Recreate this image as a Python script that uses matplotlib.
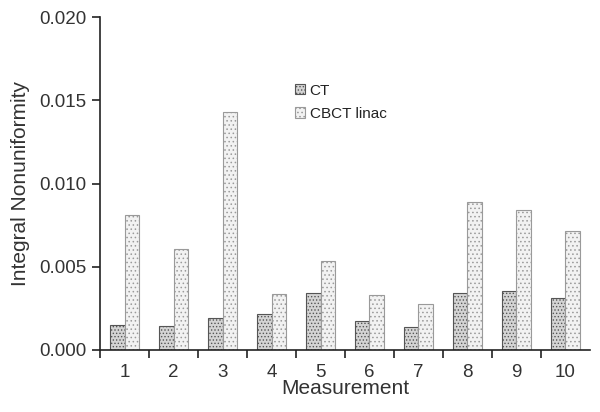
import matplotlib
matplotlib.use("Agg")
import matplotlib.pyplot as plt
import numpy as np

plt.rcParams['font.family'] = ['Liberation Sans', 'DejaVu Sans']
plt.rcParams['hatch.linewidth'] = 0.6

measurements = [1, 2, 3, 4, 5, 6, 7, 8, 9, 10]
ct = [0.0015, 0.00144, 0.0019, 0.00214, 0.0034, 0.00176, 0.00138, 0.00342, 0.00354, 0.00314]
cbct = [0.0081, 0.00605, 0.01431, 0.00334, 0.00533, 0.00332, 0.00276, 0.0089, 0.0084, 0.00716]

fig = plt.figure(figsize=(6, 4.12), dpi=100)
ax = fig.add_axes([0.1667, 0.1505, 0.8166, 0.8082])

x = np.array(measurements)
w = 0.29
ax.bar(x - w / 2, ct, width=w, color='#d4d4d4', edgecolor='#555555',
       hatch='.....', linewidth=0.8, label='CT')
ax.bar(x + w / 2, cbct, width=w, color='#f2f2f2', edgecolor='#9a9a9a',
       hatch='....', linewidth=0.8, label='CBCT linac')

ax.set_xlim(0.5, 10.5)
ax.set_ylim(0, 0.020)
ax.set_yticks([0.0, 0.005, 0.010, 0.015, 0.020])
ax.set_yticklabels(['0.000', '0.005', '0.010', '0.015', '0.020'])
ax.set_xticks(x)
ax.set_xticklabels([str(m) for m in measurements])
ax.set_xticks(np.arange(0.5, 10.0, 1.0), minor=True)
ax.tick_params(axis='x', which='major', length=0, labelsize=13.5, pad=10, colors='#333333')
ax.tick_params(axis='x', which='minor', length=6, width=1.2, direction='out', color='#222222')
ax.tick_params(axis='y', length=6, width=1.2, labelsize=13.5, colors='#333333')
ax.tick_params(axis='y', color='#222222')

for s in ['top', 'right']:
    ax.spines[s].set_visible(False)
for s in ['left', 'bottom']:
    ax.spines[s].set_linewidth(1.2)
    ax.spines[s].set_color('#222222')

ax.set_xlabel('Measurement', fontsize=15, color='#333333', labelpad=-1)
ax.set_ylabel('Integral Nonuniformity', fontsize=15, color='#333333', labelpad=7)

leg = ax.legend(loc='upper left', bbox_to_anchor=(0.398, 0.80), frameon=False, fontsize=11,
                handlelength=0.65, handleheight=0.65, handletextpad=0.3, labelspacing=0.6,
                borderpad=0, borderaxespad=0)
for t in leg.get_texts():
    t.set_color('#222222')

fig.savefig('out.png', dpi=100)
